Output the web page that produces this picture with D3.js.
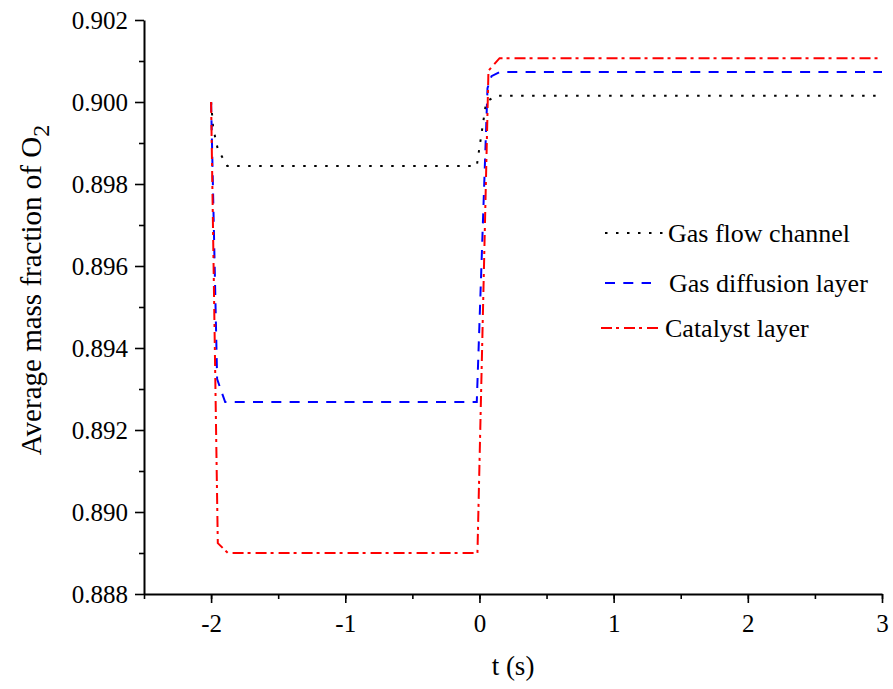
<!DOCTYPE html>
<html>
<head>
<meta charset="utf-8">
<script src="https://cdn.jsdelivr.net/npm/d3@7"></script>
<style>
  body { margin: 0; background: #fff; }
</style>
</head>
<body>
<div id="chart"></div>
<script>
const width = 893, height = 689;
const margin = { top: 20, right: 11, bottom: 95, left: 144 };
const serif = "'Liberation Serif', 'Times New Roman', Times, serif";

// values
const channelTime = [-2, -1.985, -1.95, -1.88, -0.02, 0.05, 0.12, 3];
const channelVals = [0.9000, 0.89937, 0.89885, 0.89844, 0.89844, 0.9000, 0.90015, 0.90015];

const gdlTime = [-2, -1.955, -1.895, -0.02, 0.06, 0.09, 0.15, 3];
const gdlVals = [0.9000, 0.89324, 0.89268, 0.89268, 0.90034, 0.90063, 0.90073, 0.90073];

const clTime = [-2, -1.95, -1.875, -0.015, 0.067, 0.15, 3];
const clVals = [0.9000, 0.88924, 0.8890, 0.8890, 0.90076, 0.90107, 0.90107];

const series = [
  { name: "Gas flow channel", t: channelTime, v: channelVals, color: "#000", dash: "2.5,8.5" },
  { name: "Gas diffusion layer", t: gdlTime, v: gdlVals, color: "#0000ff", dash: "10,8.3" },
  { name: "Catalyst layer", t: clTime, v: clVals, color: "#ff0000", dash: "11,4,3,5" }
];

const xTicks = [-2, -1, 0, 1, 2, 3];
const yTicks = [0.888, 0.890, 0.892, 0.894, 0.896, 0.898, 0.900, 0.902];

const x = d3.scaleLinear().domain([-2.5, 3]).range([margin.left, width - margin.right]);
const y = d3.scaleLinear().domain([0.888, 0.902]).range([height - margin.bottom, margin.top]);

const svg = d3.select("#chart").append("svg")
  .attr("width", width)
  .attr("height", height)
  .style("font-family", serif);

// minor ticks first
svg.append("g")
  .attr("transform", `translate(0,${height - margin.bottom})`)
  .call(d3.axisBottom(x).tickValues(d3.range(-2.5, 3.01, 0.5)).tickSize(5).tickFormat(""))
  .call(g => g.select(".domain").remove())
  .selectAll("line").attr("stroke-width", 1.6);

svg.append("g")
  .attr("transform", `translate(${margin.left},0)`)
  .call(d3.axisLeft(y).tickValues(d3.range(0.889, 0.9015, 0.002)).tickSize(5).tickFormat(""))
  .call(g => g.select(".domain").remove())
  .selectAll("line").attr("stroke-width", 1.6);

const xAxis = svg.append("g")
  .attr("transform", `translate(0,${height - margin.bottom})`)
  .call(d3.axisBottom(x).tickValues(xTicks).tickSize(9).tickSizeOuter(0).tickPadding(8).tickFormat(d => String(d)));

const yAxis = svg.append("g")
  .attr("transform", `translate(${margin.left},0)`)
  .call(d3.axisLeft(y).tickValues(yTicks).tickSize(9).tickSizeOuter(0).tickPadding(7).tickFormat(d => d.toFixed(3)));

[xAxis, yAxis].forEach(ax => {
  ax.attr("font-family", serif);
  ax.select(".domain").attr("stroke-width", 2);
  ax.selectAll(".tick line").attr("stroke-width", 1.6);
  ax.selectAll(".tick text")
    .style("font-family", serif)
    .style("font-size", "25px")
    .attr("fill", "#000");
});
xAxis.selectAll(".tick text").attr("dy", "0.85em");

const line = d3.line()
  .x(d => x(d[0]))
  .y(d => y(d[1]));

series.forEach(s => {
  svg.append("path")
    .datum(d3.zip(s.t, s.v))
    .attr("fill", "none")
    .attr("stroke", s.color)
    .attr("stroke-width", 2)
    .attr("stroke-dasharray", s.dash)
    .attr("d", line);
});

// legend
const legend = [
  { x1: 605, x2: 668, y: 233, tx: 668 },
  { x1: 605, x2: 651, y: 283, tx: 669 },
  { x1: 601, x2: 658, y: 328, tx: 665 }
];
series.forEach((s, i) => {
  const L = legend[i];
  svg.append("line")
    .attr("x1", L.x1).attr("x2", L.x2)
    .attr("y1", L.y).attr("y2", L.y)
    .attr("stroke", s.color)
    .attr("stroke-width", 2)
    .attr("stroke-dasharray", s.dash);
  svg.append("text")
    .attr("x", L.tx)
    .attr("y", L.y + 9)
    .style("font-family", serif)
    .style("font-size", "26px")
    .text(s.name);
});

// axis titles
svg.append("text")
  .attr("x", 513)
  .attr("y", 675)
  .attr("text-anchor", "middle")
  .style("font-family", serif)
  .style("font-size", "27px")
  .text("t (s)");

const ylab = svg.append("text")
  .attr("transform", "translate(41,290) rotate(-90)")
  .attr("text-anchor", "middle")
  .style("font-family", serif)
  .style("font-size", "29px");
ylab.append("tspan").text("Average mass fraction of O");
ylab.append("tspan").attr("dy", 8).style("font-size", "24px").text("2");
</script>
</body>
</html>
